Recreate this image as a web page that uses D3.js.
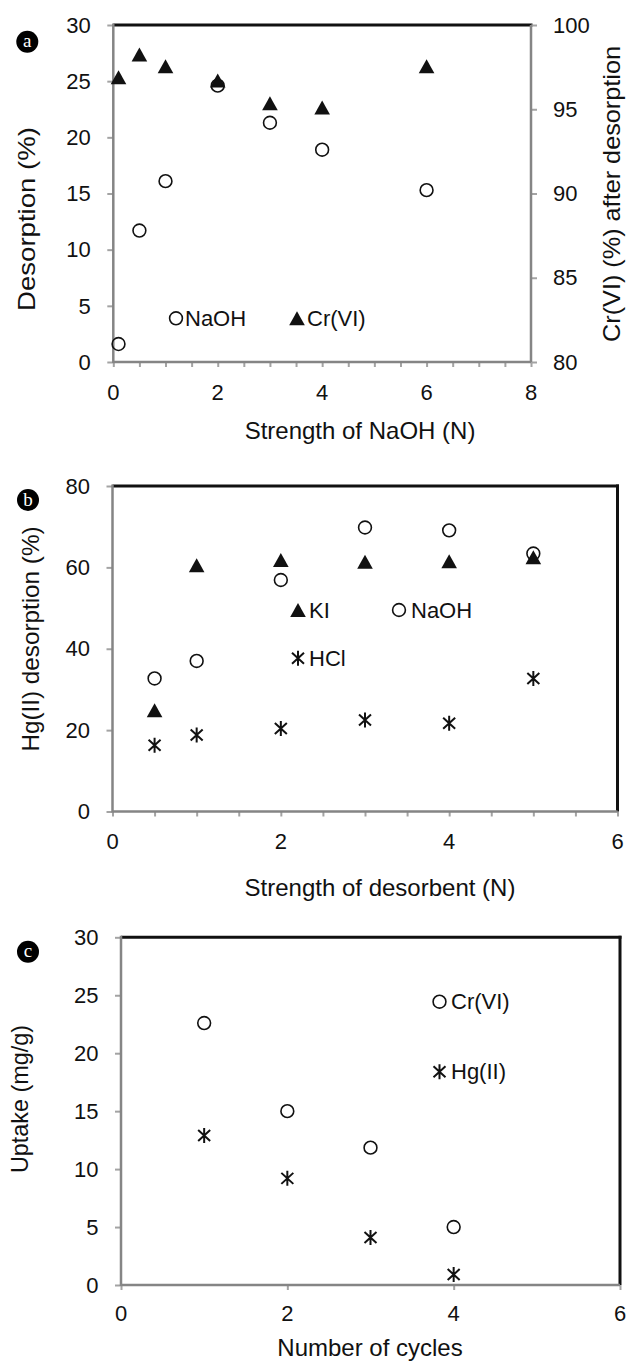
<!DOCTYPE html>
<html>
<head>
<meta charset="utf-8">
<script src="https://cdn.jsdelivr.net/npm/d3@7"></script>
<style>
  html, body { margin: 0; padding: 0; background: #fff; }
  svg { display: block; font-family: "Liberation Sans", Arial, sans-serif; }
</style>
</head>
<body>
<svg id="fig" width="627" height="1361"></svg>
<script>
// ---- (a) NaOH strength vs desorption / Cr(VI) remaining ----
const naohStrength   = [0.1, 0.5, 1, 2, 3, 4, 6];
const naohDesorption = [1.6, 11.7, 16.1, 24.6, 21.3, 18.9, 15.3];
const crAfterDesorb  = [96.9, 98.25, 97.55, 96.7, 95.35, 95.1, 97.55];
const aXTicks  = [0, 2, 4, 6, 8];
const aYTicks  = [0, 5, 10, 15, 20, 25, 30];
const aY2Ticks = [80, 85, 90, 95, 100];

// ---- (b) desorbent strength vs Hg(II) desorption ----
const desorbentStrength = [0.5, 1, 2, 3, 4, 5];
const kiDesorption   = [24.9, 60.5, 61.8, 61.4, 61.5, 62.5];
const naohHgDesorb   = [32.7, 37.0, 56.9, 69.8, 69.1, 63.4];
const hclDesorption  = [16.3, 18.8, 20.4, 22.5, 21.7, 32.7];
const bXTicks = [0, 2, 4, 6];
const bYTicks = [0, 20, 40, 60, 80];

// ---- (c) reuse cycles vs uptake ----
const cycles   = [1, 2, 3, 4];
const crUptake = [22.6, 15.0, 11.85, 5.0];
const hgUptake = [12.9, 9.2, 4.1, 0.9];
const cXTicks = [0, 2, 4, 6];
const cYTicks = [0, 5, 10, 15, 20, 25, 30];

const svg = d3.select("#fig");
const INK = "#111";
const AXIS_GRAY = "#858585";
const TICK_GRAY = "#a3a3a3";
const TICK_FONT = 22;
const TITLE_FONT = 24;

// marker shapes
const trianglePath = "M0,-7 L7.8,7 L-7.8,7 Z";
const starPath = "M0,-7.5 V7.5 M-6,-5.5 L6,5.5 M-6,5.5 L6,-5.5";

function circles(g, xs, ys, x, y) {
  g.append("g").selectAll("circle").data(xs).join("circle")
    .attr("cx", (d) => x(d)).attr("cy", (d, i) => y(ys[i])).attr("r", 6.4)
    .attr("fill", "none").attr("stroke", INK).attr("stroke-width", 1.6);
}
function triangles(g, xs, ys, x, y) {
  g.append("g").selectAll("path").data(xs).join("path")
    .attr("d", trianglePath)
    .attr("transform", (d, i) => `translate(${x(d)},${y(ys[i])})`)
    .attr("fill", INK);
}
function stars(g, xs, ys, x, y) {
  g.append("g").selectAll("path").data(xs).join("path")
    .attr("d", starPath)
    .attr("transform", (d, i) => `translate(${x(d)},${y(ys[i])})`)
    .attr("fill", "none").attr("stroke", INK).attr("stroke-width", 2);
}

function legendItem(g, kind, cx, cy, label, tx) {
  if (kind === "circle") {
    g.append("circle").attr("cx", cx).attr("cy", cy).attr("r", 6.4)
      .attr("fill", "none").attr("stroke", INK).attr("stroke-width", 1.6);
  } else if (kind === "triangle") {
    g.append("path").attr("d", trianglePath).attr("transform", `translate(${cx},${cy})`).attr("fill", INK);
  } else {
    g.append("path").attr("d", starPath).attr("transform", `translate(${cx},${cy})`)
      .attr("fill", "none").attr("stroke", INK).attr("stroke-width", 2);
  }
  g.append("text").attr("x", tx).attr("y", cy).attr("dy", "0.35em")
    .attr("font-size", TICK_FONT).attr("fill", INK).text(label);
}

function panelBadge(cx, cy, letter) {
  const g = svg.append("g");
  g.append("circle").attr("cx", cx).attr("cy", cy).attr("r", 11).attr("fill", "#000");
  g.append("text").attr("x", cx).attr("y", cy).attr("dy", "0.3em")
    .attr("text-anchor", "middle").attr("fill", "#fff")
    .attr("font-family", "'Liberation Serif', 'DejaVu Serif', serif")
    .attr("font-size", 19).text(letter);
}

// rotated axis title; optional length stretches the glyph run
function verticalTitle(g, spec) {
  const [label, cx, cy, len] = spec;
  const t = g.append("text")
    .attr("transform", `translate(${cx},${cy}) rotate(-90)`)
    .attr("dy", "0.35em").attr("text-anchor", "middle")
    .attr("font-size", TITLE_FONT).attr("fill", INK).text(label);
  if (len) t.attr("textLength", len).attr("lengthAdjust", "spacingAndGlyphs");
}

// Draws frame, ticks and labels for one panel
function framePanel(g, x, y, opt) {
  const [x0, x1] = x.range();
  const [y0, y1] = y.range(); // y0 = bottom, y1 = top

  // x ticks (minor step included)
  const xt = g.append("g").attr("transform", `translate(0,${y0})`)
    .call(d3.axisBottom(x).tickValues(opt.xTickPos).tickSize(5).tickFormat(""));
  xt.select(".domain").remove();
  xt.selectAll("line").attr("stroke", TICK_GRAY).attr("stroke-width", 2);

  // y ticks
  const yt = g.append("g").attr("transform", `translate(${x0},0)`)
    .call(d3.axisLeft(y).tickValues(opt.yTicks).tickSize(6).tickFormat(""));
  yt.select(".domain").remove();
  yt.selectAll("line").attr("stroke", TICK_GRAY).attr("stroke-width", 2);

  // top border (black)
  g.append("line").attr("x1", x0).attr("x2", x1 + 1.5).attr("y1", y1).attr("y2", y1)
    .attr("stroke", INK).attr("stroke-width", 3);

  if (opt.y2) {
    const rt = g.append("g").attr("transform", `translate(${x1},0)`)
      .call(d3.axisRight(opt.y2).tickValues(opt.y2Ticks).tickSize(6).tickFormat(""));
    rt.select(".domain").remove();
    rt.selectAll("line").attr("stroke", TICK_GRAY).attr("stroke-width", 2);
    g.append("line").attr("x1", x1).attr("x2", x1).attr("y1", y1).attr("y2", y0)
      .attr("stroke", AXIS_GRAY).attr("stroke-width", 2.5);
    g.append("g").selectAll("text").data(opt.y2Ticks).join("text")
      .attr("x", x1 + 22).attr("y", (d) => opt.y2(d)).attr("dy", "0.35em")
      .attr("font-size", TICK_FONT).attr("fill", INK).text((d) => d);
  } else {
    g.append("line").attr("x1", x1).attr("x2", x1).attr("y1", y1 - 1.5).attr("y2", y0)
      .attr("stroke", INK).attr("stroke-width", 3);
  }

  // left and bottom axis lines (gray)
  g.append("line").attr("x1", x0).attr("x2", x0).attr("y1", y1 - 1.5).attr("y2", y0 + 1)
    .attr("stroke", AXIS_GRAY).attr("stroke-width", 2.5);
  g.append("line").attr("x1", x0).attr("x2", x1).attr("y1", y0).attr("y2", y0)
    .attr("stroke", AXIS_GRAY).attr("stroke-width", 2.5);

  // tick labels
  g.append("g").selectAll("text").data(opt.xTicks).join("text")
    .attr("x", (d) => x(d)).attr("y", opt.xLabelY).attr("dy", "0.35em")
    .attr("text-anchor", "middle").attr("font-size", TICK_FONT).attr("fill", INK).text((d) => d);
  g.append("g").selectAll("text").data(opt.yTicks).join("text")
    .attr("x", x0 - 22.5).attr("y", (d) => y(d)).attr("dy", "0.35em")
    .attr("text-anchor", "end").attr("font-size", TICK_FONT).attr("fill", INK).text((d) => d);

  // axis titles
  g.append("text").attr("x", opt.xTitle[1]).attr("y", opt.xTitle[2])
    .attr("text-anchor", "middle").attr("font-size", TITLE_FONT).attr("fill", INK)
    .text(opt.xTitle[0]);
  verticalTitle(g, opt.yTitle);
  if (opt.y2Title) verticalTitle(g, opt.y2Title);
}

// ---------------- Panel (a) ----------------
{
  const g = svg.append("g");
  const x = d3.scaleLinear().domain([0, 8]).range([113.3, 531]);
  const y = d3.scaleLinear().domain([0, 30]).range([362, 25]);
  const y2 = d3.scaleLinear().domain([80, 100]).range([362, 25]);
  framePanel(g, x, y, {
    xTickPos: d3.range(0, 8.01, 0.5), xTicks: aXTicks, yTicks: aYTicks,
    y2: y2, y2Ticks: aY2Ticks, xLabelY: 392,
    xTitle: ["Strength of NaOH (N)", 360, 439],
    yTitle: ["Desorption (%)", 27, 219, 184],
    y2Title: ["Cr(VI) (%) after desorption", 612, 194, 296]
  });
  circles(g, naohStrength, naohDesorption, x, y);
  triangles(g, naohStrength, crAfterDesorb, x, y2);
  legendItem(g, "circle", 176, 318.3, "NaOH", 185);
  legendItem(g, "triangle", 297, 318.3, "Cr(VI)", 307);
  panelBadge(27.3, 41.7, "a");
}

// ---------------- Panel (b) ----------------
{
  const g = svg.append("g");
  const x = d3.scaleLinear().domain([0, 6]).range([112.5, 617.5]);
  const y = d3.scaleLinear().domain([0, 80]).range([811.5, 486]);
  framePanel(g, x, y, {
    xTickPos: d3.range(0, 6.01, 0.5), xTicks: bXTicks, yTicks: bYTicks,
    xLabelY: 841,
    xTitle: ["Strength of desorbent (N)", 380, 895.5],
    yTitle: ["Hg(II) desorption (%)", 31, 639, 225]
  });
  triangles(g, desorbentStrength, kiDesorption, x, y);
  circles(g, desorbentStrength, naohHgDesorb, x, y);
  stars(g, desorbentStrength, hclDesorption, x, y);
  legendItem(g, "triangle", 298, 610, "KI", 309);
  legendItem(g, "circle", 399, 610, "NaOH", 411);
  legendItem(g, "star", 298, 658.3, "HCl", 309);
  panelBadge(28, 500, "b");
}

// ---------------- Panel (c) ----------------
{
  const g = svg.append("g");
  const x = d3.scaleLinear().domain([0, 6]).range([121, 620]);
  const y = d3.scaleLinear().domain([0, 30]).range([1285, 937.3]);
  framePanel(g, x, y, {
    xTickPos: cXTicks, xTicks: cXTicks, yTicks: cYTicks,
    xLabelY: 1313,
    xTitle: ["Number of cycles", 370, 1355.5],
    yTitle: ["Uptake (mg/g)", 20, 1099, 148]
  });
  circles(g, cycles, crUptake, x, y);
  stars(g, cycles, hgUptake, x, y);
  legendItem(g, "circle", 439.5, 1001.7, "Cr(VI)", 451);
  legendItem(g, "star", 439.5, 1071.7, "Hg(II)", 451);
  panelBadge(28, 951.7, "c");
}
</script>
</body>
</html>
